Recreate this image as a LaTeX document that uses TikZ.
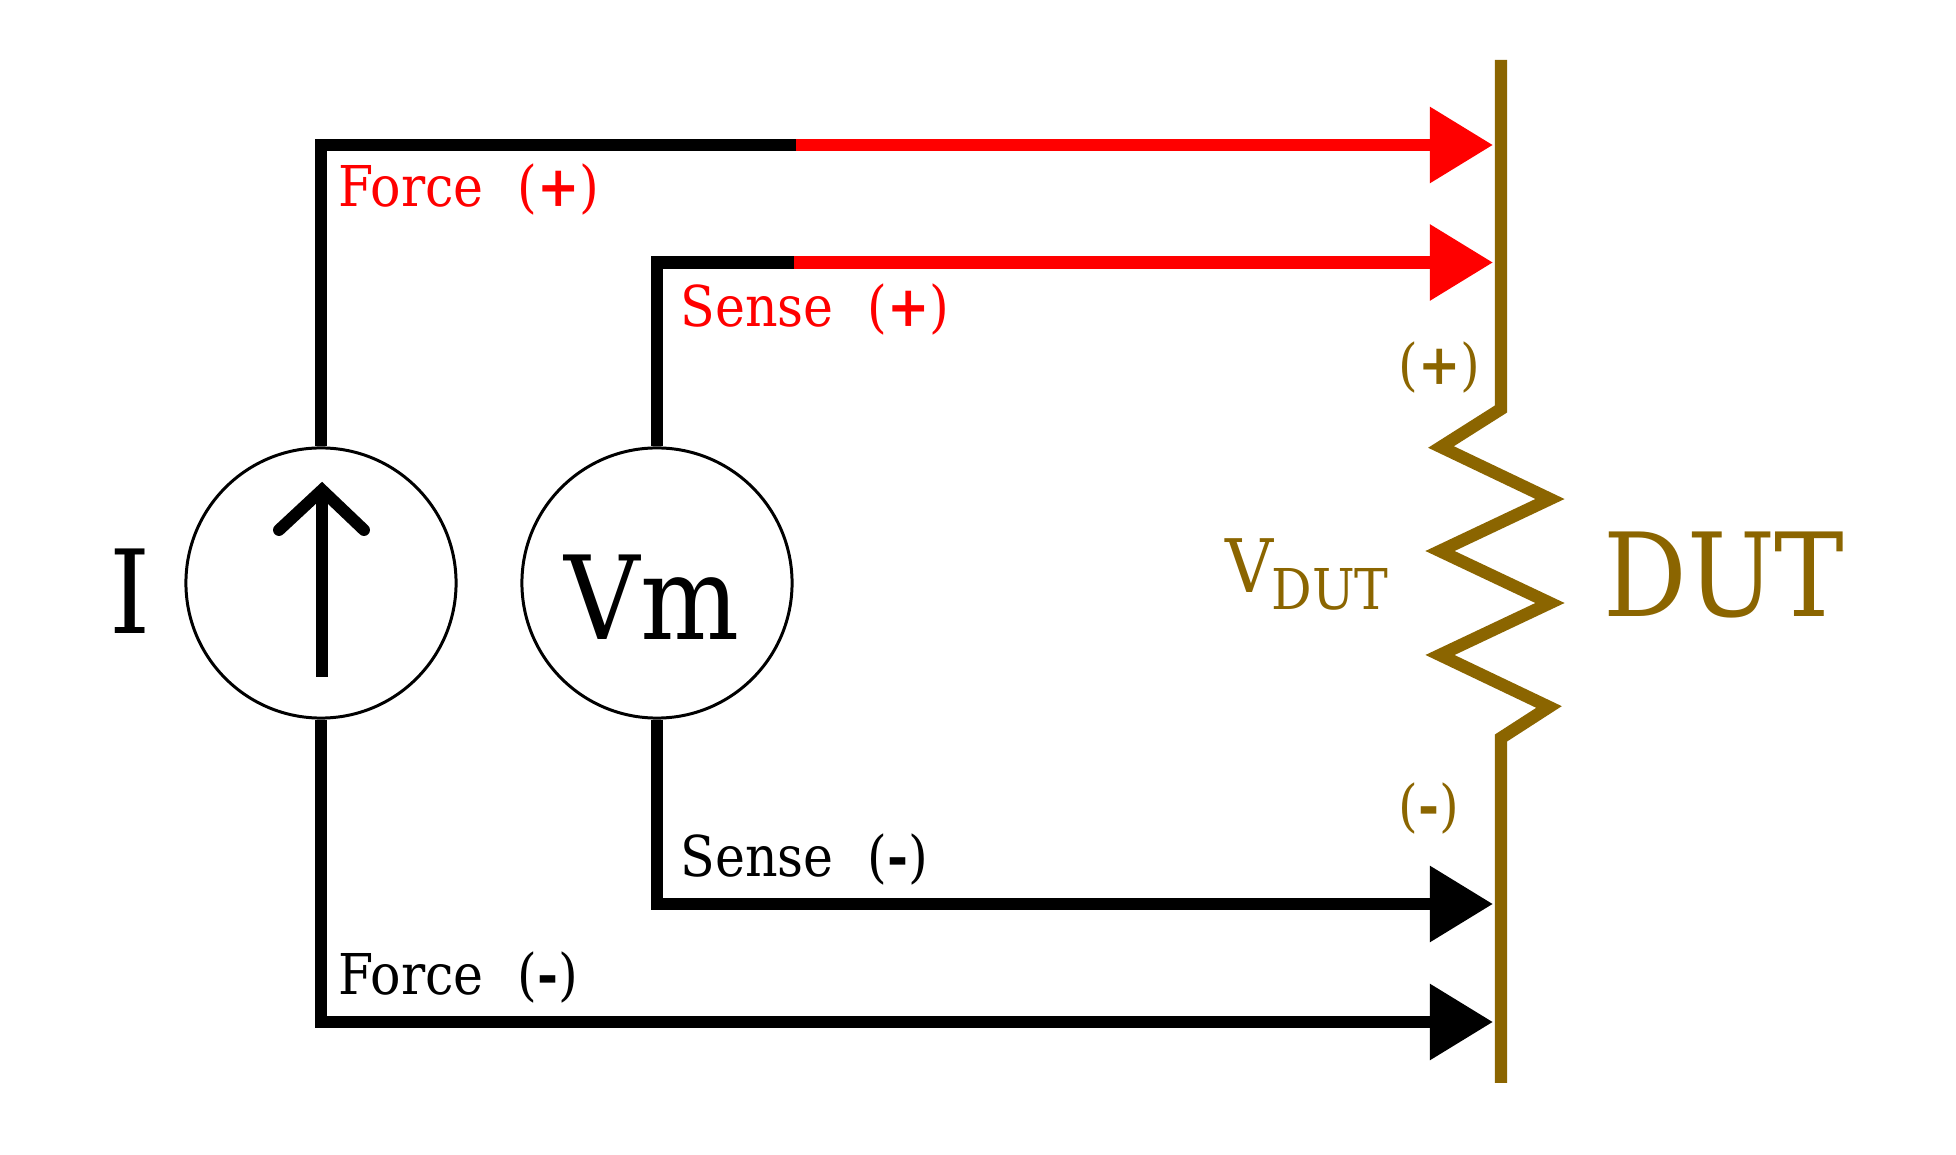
\documentclass[tikz,border=0pt]{standalone}
\usepackage{fontspec}
\setmainfont{DejaVu Serif Condensed}
\usetikzlibrary{arrows.meta}
\definecolor{dutbrown}{HTML}{8B6500}
\tikzset{
  wire/.style={line width=3.55pt, line join=miter},
  wirehead/.style={wire, -{Triangle[length=0.63cm, width=0.73cm]}},
  meter/.style={circle, draw=black, line width=0.85pt, fill=white, minimum size=2.7cm, inner sep=0pt},
  biglabel/.style={inner sep=0pt, font=\fontsize{33}{33}\selectfont},
  smalllabel/.style={inner sep=0pt, anchor=base west, font=\fontsize{16}{16}\selectfont},
}
\begin{document}
\begin{tikzpicture}[x=0.01cm, y=-0.01cm]
    \useasboundingbox (0,0) rectangle (1956,1155);
    % ends of the wires, on the DUT lead
    \coordinate (forcep) at (1493,145);
    \coordinate (sensep) at (1493,262.5);
    \coordinate (sensem) at (1493,904);
    \coordinate (forcem) at (1493,1022);
    \coordinate (forcesplit) at (796,145);
    \coordinate (sensesplit) at (794,262.5);

    \node[meter] (isrc) at (321,583) {};
    \node[meter] (vmeter) at (657,583) {};

    \draw[wire] (isrc.north) |- (forcesplit);
    \draw[wire] (vmeter.north) |- (sensesplit);
    \draw[wirehead, red] (forcesplit) -- (forcep);
    \draw[wirehead, red] (sensesplit) -- (sensep);
    \draw[wirehead] (vmeter.south) |- (sensem);
    \draw[wirehead] (isrc.south) |- (forcem);

    % DUT lead and resistor
    \draw[wire, dutbrown] (1501,60) -- (1501,409) -- (1441,447) -- (1550,499) -- (1440,551)
        -- (1550,603) -- (1440,655) -- (1549,707) -- (1501,738) -- (1501,1083);

    % current arrow
    \draw[line width=3.4pt, line cap=round] (279,530) -- (322,490) -- (364,530);
    \draw[line width=3.4pt] (322,677) -- (322,490);

    \node[biglabel] (ilabel) at (130,591) {I};
    \node[biglabel] (vmlabel) at (652,597) {Vm};
    \node[biglabel, text=dutbrown] (dutlabel) at (1724,575) {DUT};

    \node[smalllabel, text=red] (forcepl) at (338,207) {Force\hspace{0.6em}(\textbf{+})};
    \node[smalllabel, text=red] (sensepl) at (680,327) {Sense\hspace{0.6em}(\textbf{+})};
    \node[smalllabel] (senseml) at (680,877) {Sense\hspace{0.6em}(\textbf{-})};
    \node[smalllabel] (forceml) at (338,995) {Force\hspace{0.6em}(\textbf{-})};

    \node[smalllabel, text=dutbrown] (dutp) at (1398,385) {(\textbf{+})};
    \node[smalllabel, text=dutbrown] (dutm) at (1398,826) {(\textbf{-})};

    \node[inner sep=0pt, anchor=base west, text=dutbrown, font=\fontsize{21}{21}\selectfont] (vdut) at (1225,593) {V};
    \node[smalllabel, text=dutbrown] (vdutsub) at (1271,610) {DUT};
\end{tikzpicture}
\end{document}
